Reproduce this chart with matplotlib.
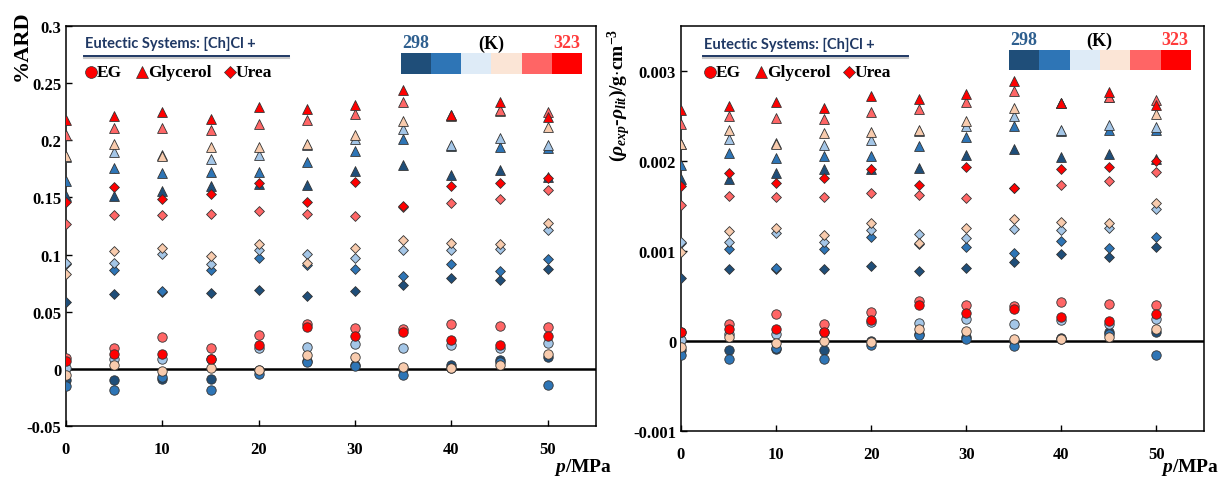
import matplotlib
matplotlib.use('Agg')
import matplotlib.pyplot as plt
from matplotlib.colors import ListedColormap
from matplotlib.lines import Line2D
from matplotlib.ticker import FuncFormatter

plt.rcParams['font.family'] = 'Liberation Serif'
plt.rcParams['font.weight'] = 'bold'
plt.rcParams['mathtext.fontset'] = 'custom'
plt.rcParams['mathtext.rm'] = 'Liberation Serif:bold'
plt.rcParams['mathtext.it'] = 'Liberation Serif:italic:bold'
plt.rcParams['mathtext.bf'] = 'Liberation Serif:bold'

# pressures (MPa) and temperatures (K)
pressure = [0, 5, 10, 15, 20, 25, 30, 35, 40, 45, 50]
temps = [298, 303, 308, 313, 318, 323]

# left panel: %ARD, one row per temperature
ard_glycerol = [
    [0.151, 0.151, 0.156, 0.160, 0.162, 0.161, 0.173, 0.178, 0.170, 0.174, 0.168],
    [0.164, 0.176, 0.171, 0.1725, 0.1725, 0.181, 0.1906, 0.201, 0.195, 0.1944, 0.193],
    [0.185, 0.190, 0.187, 0.184, 0.187, 0.196, 0.201, 0.2096, 0.196, 0.2018, 0.196],
    [0.186, 0.1965, 0.186, 0.1945, 0.1945, 0.1965, 0.2047, 0.2173, 0.221, 0.226, 0.212],
    [0.205, 0.2105, 0.2105, 0.209, 0.2143, 0.218, 0.223, 0.2333, 0.222, 0.2266, 0.2251],
    [0.218, 0.221, 0.225, 0.219, 0.2295, 0.2275, 0.231, 0.244, 0.2222, 0.2339, 0.2208],
]
ard_urea = [
    [0.0585, 0.0658, 0.067, 0.0664, 0.0693, 0.0635, 0.0678, 0.0731, 0.0795, 0.0775, 0.0877],
    [0.092, 0.0863, 0.068, 0.0863, 0.0974, 0.0906, 0.0871, 0.0813, 0.0921, 0.0854, 0.0965],
    [0.093, 0.093, 0.1009, 0.0921, 0.1038, 0.1003, 0.0974, 0.1038, 0.1038, 0.1053, 0.1219],
    [0.0827, 0.1032, 0.1061, 0.0988, 0.1096, 0.093, 0.1058, 0.1126, 0.1102, 0.109, 0.1272],
    [0.1266, 0.1345, 0.1345, 0.1351, 0.138, 0.1354, 0.1336, 0.142, 0.1447, 0.1485, 0.1564],
    [0.1456, 0.1588, 0.1482, 0.1526, 0.1623, 0.146, 0.1637, 0.1427, 0.1602, 0.1629, 0.1672],
]
ard_eg = [
    [-0.0094, -0.0094, -0.0088, -0.0088, -0.001, 0.007, 0.003, 0.000, 0.0035, 0.0079, 0.0102],
    [-0.0146, -0.0181, -0.0073, -0.0181, -0.0044, 0.0058, 0.0029, -0.0053, 0.001, 0.0064, -0.014],
    [0.0009, 0.0088, 0.0088, 0.009, 0.0181, 0.019, 0.0219, 0.0181, 0.021, 0.0181, 0.0228],
    [-0.0058, 0.0038, -0.002, 0.0006, -0.0009, 0.0123, 0.0102, 0.0015, 0.0006, 0.0038, 0.0132],
    [0.0094, 0.0184, 0.0278, 0.0184, 0.0292, 0.0395, 0.036, 0.0351, 0.0395, 0.0371, 0.0365],
    [0.0073, 0.0126, 0.0126, 0.0088, 0.0213, 0.0365, 0.0287, 0.0322, 0.0249, 0.021, 0.0284],
]

# right panel: rho_exp - rho_lit (g/cm3)
dev_glycerol = [
    [1.804e-3, 1.796e-3, 1.870e-3, 1.907e-3, 1.915e-3, 1.922e-3, 2.063e-3, 2.137e-3, 2.044e-3, 2.081e-3, 2.026e-3],
    [1.959e-3, 2.089e-3, 2.033e-3, 2.052e-3, 2.052e-3, 2.163e-3, 2.267e-3, 2.389e-3, 2.330e-3, 2.341e-3, 2.341e-3],
    [2.190e-3, 2.248e-3, 2.200e-3, 2.181e-3, 2.237e-3, 2.330e-3, 2.389e-3, 2.500e-3, 2.341e-3, 2.396e-3, 2.378e-3],
    [2.193e-3, 2.340e-3, 2.193e-3, 2.311e-3, 2.322e-3, 2.341e-3, 2.444e-3, 2.589e-3, 2.640e-3, 2.710e-3, 2.526e-3],
    [2.415e-3, 2.496e-3, 2.481e-3, 2.463e-3, 2.544e-3, 2.581e-3, 2.656e-3, 2.774e-3, 2.650e-3, 2.711e-3, 2.681e-3],
    [2.563e-3, 2.607e-3, 2.656e-3, 2.589e-3, 2.719e-3, 2.693e-3, 2.748e-3, 2.889e-3, 2.644e-3, 2.767e-3, 2.626e-3],
]
dev_urea = [
    [0.704e-3, 0.804e-3, 0.804e-3, 0.804e-3, 0.830e-3, 0.774e-3, 0.815e-3, 0.878e-3, 0.970e-3, 0.933e-3, 1.044e-3],
    [1.090e-3, 1.026e-3, 0.810e-3, 1.026e-3, 1.156e-3, 1.080e-3, 1.044e-3, 0.978e-3, 1.107e-3, 1.033e-3, 1.156e-3],
    [1.100e-3, 1.100e-3, 1.200e-3, 1.100e-3, 1.237e-3, 1.193e-3, 1.144e-3, 1.241e-3, 1.237e-3, 1.256e-3, 1.463e-3],
    [0.989e-3, 1.219e-3, 1.256e-3, 1.181e-3, 1.315e-3, 1.093e-3, 1.256e-3, 1.352e-3, 1.322e-3, 1.311e-3, 1.533e-3],
    [1.507e-3, 1.611e-3, 1.600e-3, 1.600e-3, 1.644e-3, 1.619e-3, 1.593e-3, 1.700e-3, 1.730e-3, 1.778e-3, 1.878e-3],
    [1.722e-3, 1.867e-3, 1.756e-3, 1.811e-3, 1.915e-3, 1.737e-3, 1.933e-3, 1.704e-3, 1.915e-3, 1.933e-3, 1.996e-3],
]
dev_eg = [
    [-0.104e-3, -0.104e-3, -0.093e-3, -0.104e-3, 0.000e-3, 0.080e-3, 0.040e-3, 0.000e-3, 0.037e-3, 0.100e-3, 0.100e-3],
    [-0.152e-3, -0.204e-3, -0.078e-3, -0.204e-3, -0.041e-3, 0.063e-3, 0.026e-3, -0.056e-3, 0.020e-3, 0.081e-3, -0.159e-3],
    [0.007e-3, 0.081e-3, 0.081e-3, 0.100e-3, 0.210e-3, 0.204e-3, 0.248e-3, 0.185e-3, 0.230e-3, 0.193e-3, 0.248e-3],
    [-0.067e-3, 0.044e-3, -0.019e-3, -0.004e-3, -0.011e-3, 0.130e-3, 0.107e-3, 0.019e-3, 0.019e-3, 0.044e-3, 0.137e-3],
    [0.100e-3, 0.193e-3, 0.296e-3, 0.193e-3, 0.322e-3, 0.444e-3, 0.396e-3, 0.389e-3, 0.433e-3, 0.407e-3, 0.404e-3],
    [0.100e-3, 0.137e-3, 0.137e-3, 0.100e-3, 0.237e-3, 0.396e-3, 0.311e-3, 0.352e-3, 0.267e-3, 0.222e-3, 0.304e-3],
]

temp_colors = ['#1F4E79', '#2E75B6', '#A4C6E7', '#F8CBAD', '#FF6666', '#FF0000']
bar_colors = ['#1F4E79', '#2E75B6', '#DEEBF7', '#FBE5D6', '#FF6565', '#FF0000']

W, H = 1219, 481
fig = plt.figure(figsize=(W / 100, H / 100), dpi=100)


def px(x, y):
    return x / W, 1 - y / H


def draw_panel(ax, gly, urea, eg, ylim, yticks):
    for data, marker, size in [(gly, '^', 50), (urea, 'D', 25), (eg, 'o', 46)]:
        for i, vals in enumerate(data):
            ax.scatter(pressure, vals, marker=marker, s=size, c=temp_colors[i],
                       edgecolors='#333333', linewidths=0.6, zorder=3)
    ax.axhline(0, color='black', lw=1.8, zorder=2)
    ax.set_xlim(0, 55)
    ax.set_ylim(*ylim)
    ax.set_xticks([0, 10, 20, 30, 40, 50])
    ax.set_yticks(yticks)
    ax.yaxis.set_major_formatter(FuncFormatter(lambda v, pos: '%g' % round(v, 6)))
    ax.tick_params(direction='in', length=4, width=1, labelsize=12)
    ax.tick_params(axis='x', pad=11)
    for sp in ax.spines.values():
        sp.set_linewidth(1.1)


def draw_legend(x0, y_title, y_line, y_items, bar_x, bar_y, bar_h, lbl_y):
    fig.text(*px(x0 + 1, y_title), 'Eutectic Systems: [Ch]Cl +', family='Lato',
             fontsize=10.5, fontweight='bold', color='#1F3864', va='center')
    fig.add_artist(Line2D([px(x0, 0)[0], px(x0 + 205, 0)[0]],
                          [px(0, y_line + 1.5)[1]] * 2, color='#C8C8C8', lw=1.5))
    fig.add_artist(Line2D([px(x0, 0)[0], px(x0 + 205, 0)[0]],
                          [px(0, y_line)[1]] * 2, color='#1F3864', lw=1.4))
    items = [('o', 'EG', 0, 8.5), ('^', 'Glycerol', 51, 9), ('D', 'Urea', 139, 6.5)]
    for marker, name, dx, size in items:
        fx, fy = px(x0 + 7 + dx, y_items)
        fig.add_artist(Line2D([fx], [fy], marker=marker, ms=size, color='#FF0000',
                              markeredgecolor='#333333', markeredgewidth=0.5, ls='none'))
        fig.text(fx + 6 / W, fy, name, fontsize=12.5, fontweight='bold', va='center')
    cax = fig.add_axes([bar_x / W, 1 - (bar_y + bar_h) / H, 181 / W, bar_h / H])
    cax.imshow([list(range(6))], cmap=ListedColormap(bar_colors), aspect='auto')
    cax.set_axis_off()
    fig.text(*px(bar_x + 15, lbl_y), '298', fontsize=13, fontweight='bold',
             color='#2E5F8F', ha='center', va='center')
    fig.text(*px(bar_x + 90, lbl_y), '(K)', fontsize=13, fontweight='bold',
             ha='center', va='center')
    fig.text(*px(bar_x + 166, lbl_y), '323', fontsize=13, fontweight='bold',
             color='#FF3B3B', ha='center', va='center')


ax1 = fig.add_axes([66 / W, 1 - 427 / H, 530 / W, 400 / H])
draw_panel(ax1, ard_glycerol, ard_urea, ard_eg, (-0.05, 0.3),
           [-0.05, 0, 0.05, 0.1, 0.15, 0.2, 0.25, 0.3])
ax2 = fig.add_axes([681 / W, 1 - 432 / H, 523 / W, 405 / H])
draw_panel(ax2, dev_glycerol, dev_urea, dev_eg, (-0.001, 0.0035),
           [-0.001, 0, 0.001, 0.002, 0.003])

draw_legend(84, 44, 57, 73, 401, 54, 21, 44)
draw_legend(703, 45, 57, 73, 1009, 51, 20, 41)

fig.text(*px(22, 46), '%ARD', rotation=90, fontsize=16, fontweight='bold',
         ha='center', va='center')
fig.text(*px(619, 95), r'$(\rho_{exp}$-$\rho_{lit})$/g$\cdot$cm$^{-3}$', rotation=90,
         fontsize=14, fontweight='bold', ha='center', va='center')
fig.text(*px(583, 468), r'$p$/MPa', fontsize=14, fontweight='bold', ha='center', va='center')
fig.text(*px(1190, 468), r'$p$/MPa', fontsize=14, fontweight='bold', ha='center', va='center')

fig.savefig('out.png', dpi=100)
